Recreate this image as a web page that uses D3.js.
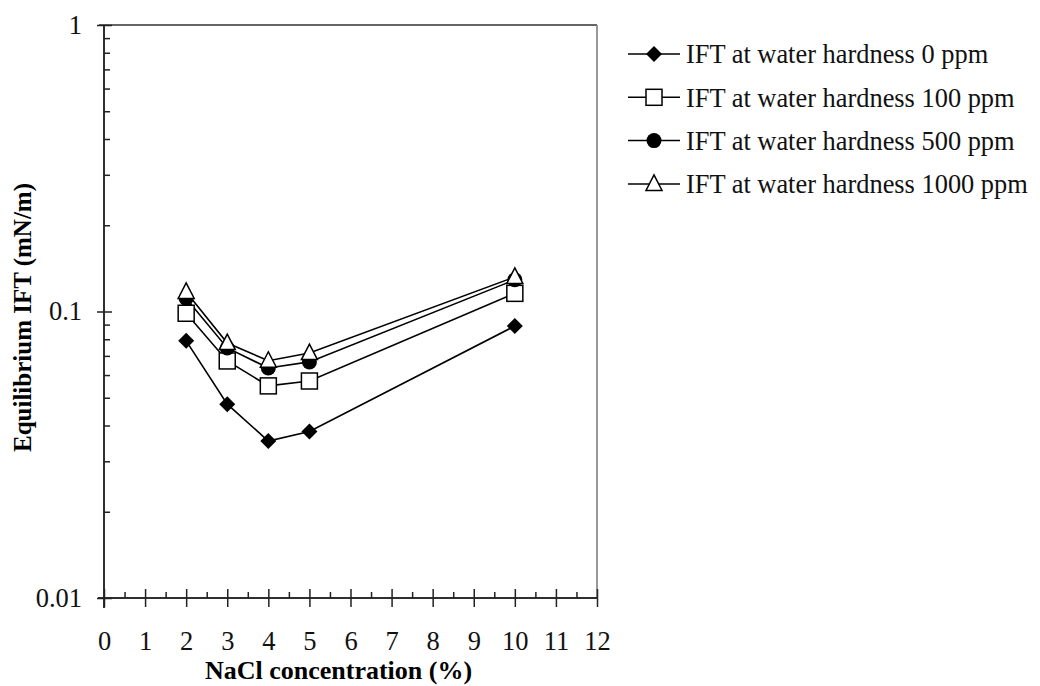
<!DOCTYPE html>
<html><head><meta charset="utf-8">
<script src="https://cdn.jsdelivr.net/npm/d3@7"></script>
<style>body{margin:0;background:#fff}svg{display:block}</style>
</head><body><svg id="c" width="1040" height="686"></svg>
<script>
const nacl = [2, 3, 4, 5, 10];
const ift0 = [0.079, 0.0475, 0.0353, 0.0381, 0.089];
const ift100 = [0.0986, 0.0672, 0.055, 0.0572, 0.1157];
const ift500 = [0.111, 0.0746, 0.0635, 0.0667, 0.129];
const ift1000 = [0.117, 0.0776, 0.0673, 0.0716, 0.132];
const seriesNames = ["IFT at water hardness 0 ppm","IFT at water hardness 100 ppm","IFT at water hardness 500 ppm","IFT at water hardness 1000 ppm"];
const markerTypes = ["diamond","square","circle","triangle"];
const xTicks = [0,1,2,3,4,5,6,7,8,9,10,11,12];
const xMinor = [0.5,1.5,2.5,3.5,4.5,5.5,6.5,7.5,8.5,9.5,10.5,11.5];
const yTicks = [0.01, 0.1, 1];
const yTickLabels = ["0.01","0.1","1"];
const xTitle = "NaCl concentration (%)";
const yTitle = "Equilibrium IFT (mN/m)";

const svg = d3.select("#c");
const L = 104, R = 597, T = 25, B = 598;
const x = d3.scaleLinear().domain([0,12]).range([L,R]);
const y = d3.scaleLog().domain([0.01,1]).range([B,T]);
const font = "'Liberation Serif','Times New Roman',serif";

// frame top and right
svg.append("line").attr("x1",L-5).attr("x2",R).attr("y1",T).attr("y2",T).attr("stroke","#333").attr("stroke-width",1.5);
svg.append("line").attr("x1",R).attr("x2",R).attr("y1",T).attr("y2",B).attr("stroke","#777").attr("stroke-width",1.5);

// x axis
const gx = svg.append("g").attr("transform",`translate(0,${B})`)
  .call(d3.axisBottom(x).tickValues(xTicks).tickSize(9).tickFormat(d3.format("d")));
gx.selectAll(".tick line").attr("y1",-9);
gx.selectAll(".tick text").attr("y",52).attr("dy",0);
gx.append("g").call(d3.axisBottom(x).tickValues(xMinor).tickSize(-6).tickFormat(""));
gx.selectAll(".domain").attr("d",`M${L-6},0H${R}`);
// y axis
const minorY = [];
[0.01,0.1].forEach(b=>{for(let k=2;k<=9;k++) minorY.push(b*k);});
const gy = svg.append("g").attr("transform",`translate(${L},0)`)
  .call(d3.axisLeft(y).tickValues(yTicks).tickSize(7).tickPadding(15).tickFormat((d,i)=>yTickLabels[i]));
gy.selectAll(".tick line").attr("x2",-7).attr("x1",8);
gy.append("g").call(d3.axisLeft(y).tickValues(minorY).tickSize(-6).tickFormat(""));
gy.selectAll(".domain").attr("d",`M0,${B+10}V${T}`);
svg.selectAll(".domain").attr("stroke","#222").attr("stroke-width",1.5);
svg.selectAll(".tick line").attr("stroke","#222").attr("stroke-width",1.5);
svg.selectAll(".tick text").attr("font-family",font).attr("font-size",26.5).attr("fill","#111");

// titles
svg.append("text").attr("x",(L+R)/2 - 12).attr("y",679).attr("text-anchor","middle")
  .attr("font-family",font).attr("font-weight","bold").attr("font-size",26).text(xTitle);
svg.append("text").attr("transform",`translate(31,${(T+B)/2 + 6}) rotate(-90)`).attr("text-anchor","middle")
  .attr("font-family",font).attr("font-weight","bold").attr("font-size",25).text(yTitle);

function marker(g, type){
  if(type==="diamond") g.append("path").attr("d","M0,-8L8,0L0,8L-8,0Z").attr("fill","#000");
  else if(type==="square") g.append("rect").attr("x",-8).attr("y",-8).attr("width",16).attr("height",16).attr("fill","#fff").attr("stroke","#000").attr("stroke-width",1.5);
  else if(type==="circle") g.append("circle").attr("r",7.5).attr("fill","#000");
  else g.append("path").attr("d","M0,-9L8,6.5L-8,6.5Z").attr("fill","#fff").attr("stroke","#000").attr("stroke-width",1.5);
}

const allSeries = [ift0, ift100, ift500, ift1000];
const line = d3.line().x((d,i)=>x(nacl[i])).y(d=>y(d));
allSeries.forEach((vals,si)=>{
  svg.append("path").attr("d",line(vals)).attr("fill","none").attr("stroke","#000").attr("stroke-width",1.6);
});
allSeries.forEach((vals,si)=>{
  vals.forEach((v,i)=>{
    const g = svg.append("g").attr("transform",`translate(${x(nacl[i])},${y(v)})`);
    marker(g, markerTypes[si]);
  });
});

// legend
const leg = svg.append("g");
seriesNames.forEach((name,i)=>{
  const cy = 54 + i*43.3;
  leg.append("line").attr("x1",628).attr("x2",680).attr("y1",cy).attr("y2",cy).attr("stroke","#000").attr("stroke-width",1.5);
  const g = leg.append("g").attr("transform",`translate(654,${cy})`);
  marker(g, markerTypes[i]);
  leg.append("text").attr("x",686).attr("y",cy).attr("dy","0.35em").attr("font-family",font).attr("font-size",26.4).attr("fill","#111").text(name);
});
</script></body></html>
